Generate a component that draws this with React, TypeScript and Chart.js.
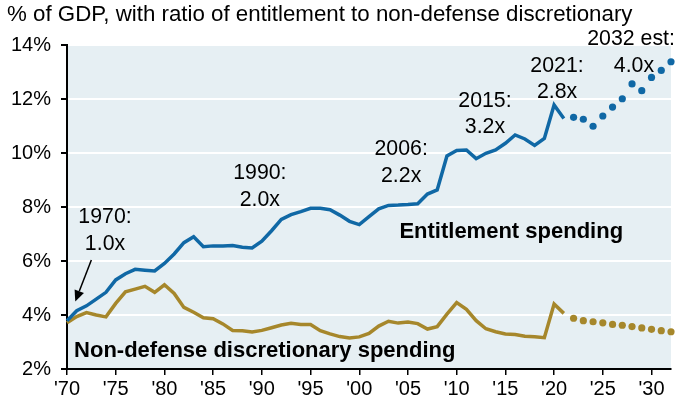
import React, { useEffect, useRef } from 'react';
import { Chart, registerables } from 'chart.js';

Chart.register(...registerables);

const actualYears = [
  1970, 1971, 1972, 1973, 1974, 1975, 1976, 1977, 1978, 1979,
  1980, 1981, 1982, 1983, 1984, 1985, 1986, 1987, 1988, 1989,
  1990, 1991, 1992, 1993, 1994, 1995, 1996, 1997, 1998, 1999,
  2000, 2001, 2002, 2003, 2004, 2005, 2006, 2007, 2008, 2009,
  2010, 2011, 2012, 2013, 2014, 2015, 2016, 2017, 2018, 2019,
  2020, 2021,
];
const entitlementActual = [
  3.79, 4.16, 4.34, 4.59, 4.84, 5.30, 5.53, 5.69, 5.66, 5.63,
  5.91, 6.26, 6.68, 6.90, 6.53, 6.56, 6.56, 6.57, 6.51, 6.48,
  6.73, 7.12, 7.54, 7.72, 7.83, 7.95, 7.95, 7.90, 7.70, 7.47,
  7.35, 7.64, 7.93, 8.06, 8.07, 8.09, 8.12, 8.48, 8.63, 9.89,
  10.09, 10.11, 9.79, 9.99, 10.11, 10.36, 10.67, 10.52, 10.28, 10.54,
  11.78, 11.28,
];
const discretionaryActual = [
  3.71, 3.94, 4.09, 4.00, 3.93, 4.43, 4.86, 4.96, 5.06, 4.84,
  5.12, 4.80, 4.28, 4.10, 3.90, 3.86, 3.67, 3.43, 3.42, 3.37,
  3.43, 3.53, 3.63, 3.69, 3.65, 3.65, 3.42, 3.30, 3.20, 3.15,
  3.19, 3.32, 3.59, 3.77, 3.70, 3.74, 3.68, 3.48, 3.57, 4.03,
  4.46, 4.21, 3.79, 3.49, 3.38, 3.30, 3.28, 3.21, 3.19, 3.16,
  4.41, 4.06,
];
const projYears = [2022, 2023, 2024, 2025, 2026, 2027, 2028, 2029, 2030, 2031, 2032];
const entitlementProj = [11.32, 11.25, 10.99, 11.37, 11.70, 12.01, 12.56, 12.31, 12.80, 13.06, 13.38];
const discretionaryProj = [3.88, 3.79, 3.75, 3.71, 3.65, 3.62, 3.57, 3.52, 3.47, 3.42, 3.38];

const xTickYears = [1970, 1975, 1980, 1985, 1990, 1995, 2000, 2005, 2010, 2015, 2020, 2025, 2030];
const yTickValues = [2, 4, 6, 8, 10, 12, 14];

const subtitle = '% of GDP, with ratio of entitlement to non-defense discretionary';

// annotation text anchored in data coordinates: [year, value, text]
const ratioLabels: [number, number, string][] = [
  [1973.9, 7.61, '1970:'], [1973.9, 6.63, '1.0x'],
  [1989.8, 9.24, '1990:'], [1989.8, 8.26, '2.0x'],
  [2004.3, 10.15, '2006:'], [2004.3, 9.15, '2.2x'],
  [2012.9, 11.93, '2015:'], [2012.9, 10.96, '3.2x'],
  [2020.3, 13.2, '2021:'], [2020.3, 12.24, '2.8x'],
  [2027.9, 14.22, '2032 est:'], [2028.2, 13.22, '4.0x'],
];
const seriesLabels: [number, number, string][] = [
  [2015.6, 7.07, 'Entitlement spending'],
  [1990.3, 2.67, 'Non-defense discretionary spending'],
];
const arrowFrom: [number, number] = [1972.5, 6.04];
const arrowTo: [number, number] = [1970.85, 4.5];

const BLUE = '#1068a5';
const GOLD = '#a6872b';
const BG = '#e6eff3';
const FONT = '"Liberation Sans", Arial, sans-serif';

const pts = (xs: number[], ys: number[]) => xs.map((x, i) => ({ x, y: ys[i] }));

const decorPlugin = {
  id: 'decor',
  beforeDraw(chart: any) {
    const { ctx, chartArea } = chart;
    ctx.save();
    ctx.fillStyle = BG;
    ctx.fillRect(chartArea.left, chartArea.top, chartArea.right - chartArea.left, chartArea.bottom - chartArea.top);
    ctx.restore();
  },
  afterDraw(chart: any) {
    const { ctx } = chart;
    const xs = chart.scales.x;
    const ys = chart.scales.y;
    ctx.save();
    ctx.fillStyle = '#000';
    ctx.textBaseline = 'alphabetic';
    ctx.textAlign = 'left';
    ctx.font = `22.3px ${FONT}`;
    ctx.fillText(subtitle, 7, 21);

    ctx.textAlign = 'center';
    ctx.textBaseline = 'middle';
    ctx.font = `21.3px ${FONT}`;
    ratioLabels.forEach(([yr, v, t]) => {
      ctx.fillText(t, xs.getPixelForValue(yr), ys.getPixelForValue(v));
    });
    ctx.font = `bold 22px ${FONT}`;
    seriesLabels.forEach(([yr, v, t]) => {
      ctx.fillText(t, xs.getPixelForValue(yr), ys.getPixelForValue(v));
    });

    // arrow
    const x1 = xs.getPixelForValue(arrowFrom[0]);
    const y1 = ys.getPixelForValue(arrowFrom[1]);
    const x2 = xs.getPixelForValue(arrowTo[0]);
    const y2 = ys.getPixelForValue(arrowTo[1]);
    const ang = Math.atan2(y2 - y1, x2 - x1);
    const head = 11;
    const bx = x2 - head * Math.cos(ang);
    const by = y2 - head * Math.sin(ang);
    ctx.strokeStyle = '#000';
    ctx.lineWidth = 1.5;
    ctx.beginPath();
    ctx.moveTo(x1, y1);
    ctx.lineTo(bx, by);
    ctx.stroke();
    ctx.beginPath();
    ctx.moveTo(x2, y2);
    ctx.lineTo(bx + 5 * Math.sin(ang), by - 5 * Math.cos(ang));
    ctx.lineTo(bx - 5 * Math.sin(ang), by + 5 * Math.cos(ang));
    ctx.closePath();
    ctx.fill();
    ctx.restore();
  },
};

export default function App() {
  const ref = useRef<HTMLCanvasElement | null>(null);
  useEffect(() => {
    if (!ref.current) return;
    const chart = new Chart(ref.current, {
      type: 'line',
      data: {
        datasets: [
          {
            data: pts(actualYears, entitlementActual),
            borderColor: BLUE,
            borderWidth: 3.5,
            pointRadius: 0,
            tension: 0,
            clip: 8,
          },
          {
            data: pts(projYears, entitlementProj),
            borderColor: BLUE,
            backgroundColor: BLUE,
            showLine: false,
            pointRadius: 3.6,
            pointBorderWidth: 0,
            clip: 8,
          },
          {
            data: pts(actualYears, discretionaryActual),
            borderColor: GOLD,
            borderWidth: 3.5,
            pointRadius: 0,
            tension: 0,
            clip: 8,
          },
          {
            data: pts(projYears, discretionaryProj),
            borderColor: GOLD,
            backgroundColor: GOLD,
            showLine: false,
            pointRadius: 3.6,
            pointBorderWidth: 0,
            clip: 8,
          },
        ],
      } as any,
      options: {
        animation: false,
        responsive: true,
        maintainAspectRatio: false,
        layout: { padding: { left: 0, right: 7, top: 45, bottom: 0 } },
        plugins: { legend: { display: false }, tooltip: { enabled: false } },
        scales: {
          x: {
            type: 'linear',
            min: 1970,
            max: 2032,
            afterBuildTicks: (s: any) => {
              s.ticks = xTickYears.map((v) => ({ value: v }));
            },
            afterFit: (s: any) => {
              s.height = 35;
            },
            ticks: {
              color: '#000',
              font: { family: FONT, size: 20 },
              padding: 2,
              maxRotation: 0,
              autoSkip: false,
              callback: (v: any) => "'" + String(v).slice(2),
            },
            grid: { drawOnChartArea: false, drawTicks: true, tickLength: 6, tickColor: '#000', lineWidth: 1.5 },
            border: { color: '#000', width: 2 },
          },
          y: {
            type: 'linear',
            min: 2,
            max: 14,
            afterBuildTicks: (s: any) => {
              s.ticks = yTickValues.map((v) => ({ value: v }));
            },
            afterFit: (s: any) => {
              s.width = 67;
            },
            ticks: {
              color: '#000',
              font: { family: FONT, size: 20 },
              padding: 10,
              callback: (v: any) => v + '%',
            },
            grid: { color: '#ffffff', lineWidth: 2, tickColor: '#000', tickLength: 6, drawTicks: true },
            border: { color: '#000', width: 2 },
          },
        },
      } as any,
      plugins: [decorPlugin],
    });
    return () => chart.destroy();
  }, []);
  return (
    <div style={{ position: 'fixed', left: 0, top: 0, width: 678, height: 404 }}>
      <canvas ref={ref} />
    </div>
  );
}
